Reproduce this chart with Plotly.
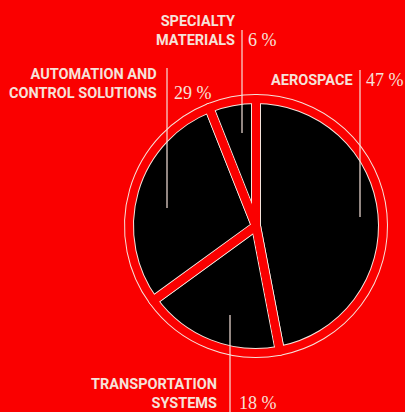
import plotly.graph_objects as go

W, H = 405, 412

segments = ["AEROSPACE", "TRANSPORTATION SYSTEMS", "AUTOMATION AND CONTROL SOLUTIONS", "SPECIALTY MATERIALS"]
shares = [47, 18, 29, 6]
pct_labels = ["47 %", "18 %", "29 %", "6 %"]

RED = "#fa0000"
WHITE = "#f6e2da"

cx, cy, R = 256, 226, 127
dom_x = [(cx - R) / W, (cx + R) / W]
dom_y = [1 - (cy + R) / H, 1 - (cy - R) / H]

fig = go.Figure()
# base pie: black fill with wider light stroke
fig.add_trace(go.Pie(
    labels=segments, values=shares, sort=False, direction="clockwise", rotation=0,
    marker=dict(colors=["black"] * 4, line=dict(color=WHITE, width=10)),
    textinfo="none", hoverinfo="label+percent", showlegend=False,
    domain=dict(x=dom_x, y=dom_y),
))
# overlay: transparent fill, red stroke leaving thin light edges
fig.add_trace(go.Pie(
    labels=segments, values=shares, sort=False, direction="clockwise", rotation=0,
    marker=dict(colors=["rgba(0,0,0,0)"] * 4, line=dict(color=RED, width=8)),
    textinfo="none", hoverinfo="skip", showlegend=False,
    domain=dict(x=dom_x, y=dom_y),
))

def px(x):
    return x / W

def py(y):
    return 1 - y / H

# pointer lines (x, y_top, y_bottom)
pointers = [(360, 70, 217), (230, 315, 412), (167, 68, 208), (242, 30, 133)]
shapes = []
for x, y0, y1 in pointers:
    shapes.append(dict(type="line", xref="paper", yref="paper",
                       x0=px(x), x1=px(x), y0=py(y0), y1=py(y1),
                       line=dict(color=WHITE, width=1.2)))

label_font = dict(family="Roboto", size=14.5, color=WHITE, weight="bold")
pct_font = dict(family="Liberation Serif", size=18, color=WHITE)

# (text, x_right, y_center)
name_anns = [
    ("AEROSPACE", 355, 80),
    ("TRANSPORTATION<br>SYSTEMS", 219, 394),
    ("AUTOMATION AND<br>CONTROL SOLUTIONS", 159, 84),
    ("SPECIALTY<br>MATERIALS", 237, 31),
]
pct_pos = [(364, 80), (237, 403), (172, 93), (246, 40)]

annotations = []
for (txt, xr, yc) in name_anns:
    annotations.append(dict(text=txt, xref="paper", yref="paper", x=px(xr), y=py(yc),
                            xanchor="right", yanchor="middle", align="right",
                            showarrow=False, font=label_font))
for p, (xl, yc) in zip(pct_labels, pct_pos):
    annotations.append(dict(text=p, xref="paper", yref="paper", x=px(xl), y=py(yc),
                            xanchor="left", yanchor="middle", showarrow=False, font=pct_font))

fig.update_layout(
    width=W, height=H, margin=dict(l=0, r=0, t=0, b=0),
    paper_bgcolor=RED, plot_bgcolor=RED,
    shapes=shapes, annotations=annotations,
)

fig.write_html("out.html")
